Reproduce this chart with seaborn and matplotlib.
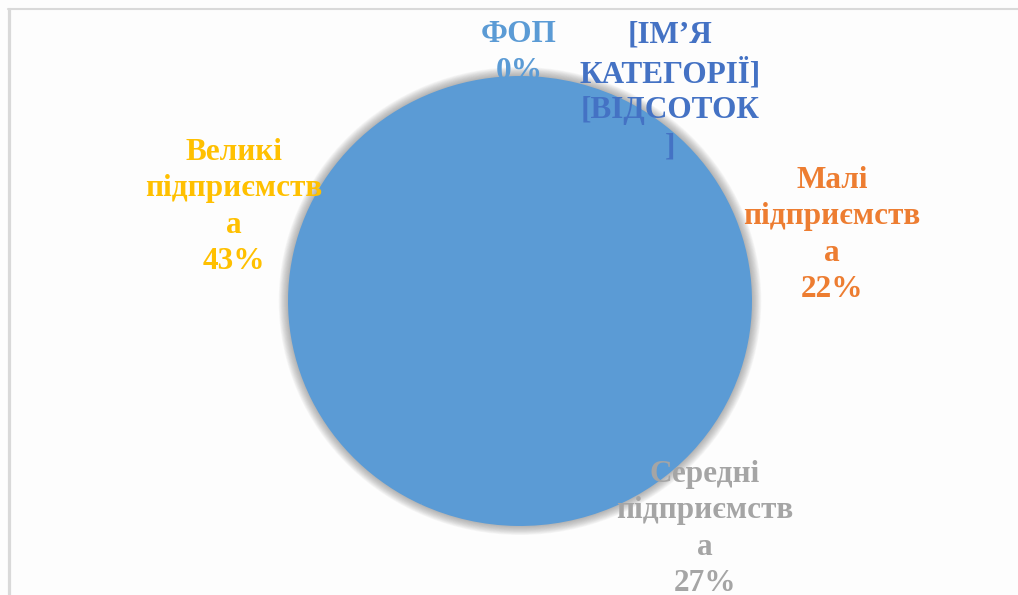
import matplotlib
matplotlib.use('Agg')
import matplotlib.pyplot as plt
from matplotlib.patches import Ellipse
from matplotlib.lines import Line2D
import seaborn as sns

# Data (pie order, clockwise from 12 o'clock)
categories = ['ФОП', '[ІМ’Я КАТЕГОРІЇ]', 'Малі підприємства', 'Середні підприємства', 'Великі підприємства']
shares = [0, 8, 22, 27, 43]
label_texts = [
    'ФОП\n0%',
    '[ІМ’Я\nКАТЕГОРІЇ]\n[ВІДСОТОК\n]',
    'Малі\nпідприємств\nа\n22%',
    'Середні\nпідприємств\nа\n27%',
    'Великі\nпідприємств\nа\n43%',
]
label_colors = ['#5B9BD5', '#4472C4', '#ED7D31', '#A5A5A5', '#FFC000']
pie_color = '#5B9BD5'

# layout (pixels of a 1018x595 canvas)
W, H = 1018, 595
cx, cy, rx, ry = 520, 301, 232, 225
label_pos = [(519, 53), (670, 91), (832, 235), (705, 529), (234, 207)]

sns.set_theme(style="white")
plt.rcParams['font.family'] = ['Liberation Serif', 'DejaVu Serif']

fig = plt.figure(figsize=(W / 100, H / 100), dpi=100)
fig.patch.set_facecolor('#FDFDFD')
ax = fig.add_axes([0, 0, 1, 1])
ax.set_facecolor('#FDFDFD')

# soft shadow around the pie
n = 12
for i in range(n):
    s = 1.0 + 0.04 * (n - i) / n
    ax.add_patch(Ellipse((0, 0), 2 * s, 2 * s, color='#6F6F6F', alpha=0.05, lw=0, zorder=1))
# solid underlay so wedge seams don't show
ax.add_patch(Ellipse((0, 0), 1.99, 1.99, color=pie_color, lw=0, zorder=1.5))

ax.pie(shares, colors=[pie_color] * len(shares), startangle=90, counterclock=False,
       radius=1, wedgeprops=dict(linewidth=0, zorder=2))

ax.set_aspect('auto')
ax.set_xlim(-cx / rx, (W - cx) / rx)
ax.set_ylim((cy - H) / ry, cy / ry)
ax.axis('off')

for txt, col, (px, py) in zip(label_texts, label_colors, label_pos):
    fig.text(px / W, 1 - py / H, txt, color=col, fontsize=22.5, fontweight='bold',
             ha='center', va='center', multialignment='center', linespacing=1.32, zorder=5)

# chart border (top and left edges visible)
fig.add_artist(Line2D([8 / W, 1], [1 - 9 / H, 1 - 9 / H], color='#D9D9D9', lw=1.5))
fig.add_artist(Line2D([8.5 / W, 8.5 / W], [0, 1 - 9 / H], color='#D9D9D9', lw=2.3))

fig.savefig('out.png', dpi=100, facecolor=fig.get_facecolor())
